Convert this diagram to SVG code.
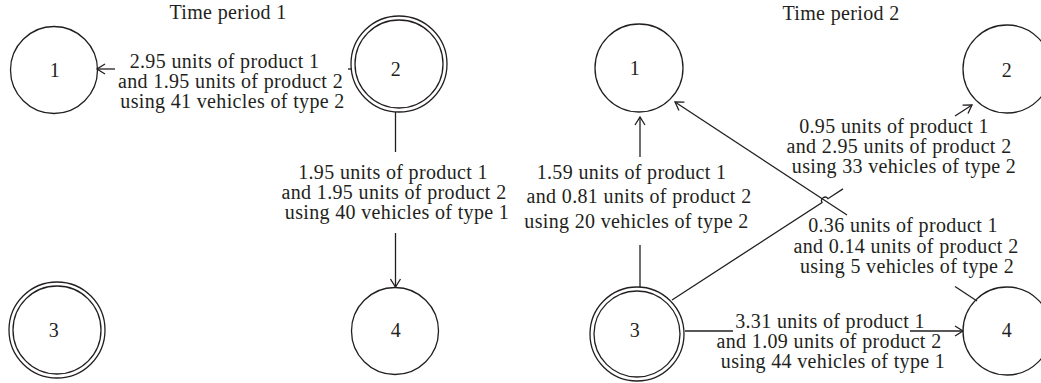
<svg xmlns="http://www.w3.org/2000/svg" width="1041" height="383" viewBox="0 0 1041 383">
<style>
.nc{fill:none;stroke:#231f20;stroke-width:1.3}
.t{font-family:"Liberation Serif","Times New Roman",serif;font-size:20px;fill:#231f20;text-anchor:middle;letter-spacing:0.35px}
.e{fill:none;stroke:#231f20;stroke-width:1.3}
</style>
<defs>
<marker id="arr" markerUnits="userSpaceOnUse" markerWidth="12" markerHeight="12" viewBox="-10 -6 12 12" refX="0" refY="0" orient="auto">
<path d="M-8,-5 L0,0 L-8,5" fill="none" stroke="#231f20" stroke-width="1.3"/>
</marker>
</defs>
<rect width="1041" height="383" fill="#ffffff"/>
<g id="titles">
<text class="t" x="228" y="19">Time period 1</text>
<text class="t" x="841" y="20">Time period 2</text>
</g>
<g id="t1-node1"><circle class="nc" cx="54" cy="70" r="43.5"/><text class="t" x="55" y="77">1</text></g>
<g id="t1-node2"><circle class="nc" cx="399" cy="64" r="48"/><circle class="nc" cx="399" cy="64" r="44"/><text class="t" x="396" y="76">2</text></g>
<g id="t1-node3"><circle class="nc" cx="57" cy="330" r="48"/><circle class="nc" cx="57" cy="330" r="44"/><text class="t" x="54" y="337">3</text></g>
<g id="t1-node4"><circle class="nc" cx="395" cy="331" r="43.5"/><text class="t" x="396" y="337">4</text></g>
<g id="t2-node1"><circle class="nc" cx="639" cy="68" r="44"/><text class="t" x="635" y="75">1</text></g>
<g id="t2-node2"><circle class="nc" cx="1007" cy="69" r="44"/><text class="t" x="1007" y="77">2</text></g>
<g id="t2-node3"><circle class="nc" cx="637" cy="334" r="47"/><circle class="nc" cx="637" cy="334" r="43"/><text class="t" x="635" y="337">3</text></g>
<g id="t2-node4"><circle class="nc" cx="1007" cy="331" r="44"/><text class="t" x="1007" y="337">4</text></g>
<g id="connectors">
<path class="e" d="M352,69 L348,69"/>
<path class="e" d="M115,69 L97,69" marker-end="url(#arr)"/>
<path class="e" d="M395.5,112 L395.5,152"/>
<path class="e" d="M395.5,233 L395.5,287" marker-end="url(#arr)"/>
<path class="e" d="M640,287 L640,245"/>
<path class="e" d="M640,157 L640,117" marker-end="url(#arr)"/>
<path class="e" d="M977,301 L955,286.5"/>
<path class="e" d="M847,215 L675,102" marker-end="url(#arr)"/>
<path class="e" d="M672,300 L822.07,202.51 A3.5,3.5 0 0 1 827.93,198.69 L843,188.85"/>
<path class="e" d="M955,116 L972,105" marker-end="url(#arr)"/>
<path class="e" d="M685,331 L733,331"/>
<path class="e" d="M910,331 L963,331" marker-end="url(#arr)"/>
</g>
<g id="edge-labels">
<text class="t" x="224.5" y="68">2.95 units of product 1</text>
<text class="t" x="230.5" y="88">and 1.95 units of product 2</text>
<text class="t" x="232.5" y="108">using 41 vehicles of type 2</text>
<text class="t" x="393" y="179">1.95 units of product 1</text>
<text class="t" x="394" y="199">and 1.95 units of product 2</text>
<text class="t" x="397" y="219">using 40 vehicles of type 1</text>
<text class="t" x="894" y="133">0.95 units of product 1</text>
<text class="t" x="899" y="153">and 2.95 units of product 2</text>
<text class="t" x="904" y="173">using 33 vehicles of type 2</text>
<text class="t" x="631.5" y="179">1.59 units of product 1</text>
<text class="t" x="639" y="203">and 0.81 units of product 2</text>
<text class="t" x="636.5" y="228">using 20 vehicles of type 2</text>
<text class="t" x="903" y="232">0.36 units of product 1</text>
<text class="t" x="906" y="253">and 0.14 units of product 2</text>
<text class="t" x="907" y="273">using 5 vehicles of type 2</text>
<text class="t" x="830" y="328">3.31 units of product 1</text>
<text class="t" x="829" y="348">and 1.09 units of product 2</text>
<text class="t" x="833" y="368">using 44 vehicles of type 1</text>
</g>
</svg>
